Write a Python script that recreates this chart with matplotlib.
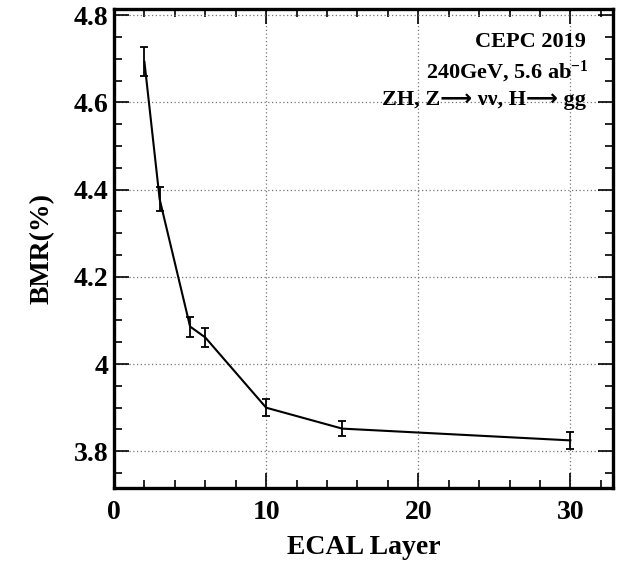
import matplotlib
matplotlib.use('Agg')
import matplotlib.pyplot as plt
from matplotlib.ticker import MultipleLocator

# Data
layers = [2, 3, 5, 6, 10, 15, 30]
bmr = [4.693, 4.378, 4.086, 4.061, 3.900, 3.852, 3.825]
bmr_err = [0.033, 0.028, 0.023, 0.022, 0.020, 0.018, 0.020]

plt.rcParams['font.family'] = ['Liberation Serif', 'DejaVu Sans']
plt.rcParams['font.weight'] = 'bold'
plt.rcParams['mathtext.fontset'] = 'custom'
plt.rcParams['mathtext.rm'] = 'Liberation Serif:bold'
plt.rcParams['mathtext.it'] = 'Liberation Serif:bold:italic'

fig = plt.figure(figsize=(6.21, 5.66), dpi=100)
ax = fig.add_axes([114 / 621, 1 - 487.5 / 566, 499 / 621, 478.5 / 566])

ax.errorbar(layers, bmr, yerr=bmr_err, color='black', lw=1.5,
            elinewidth=1.3, capsize=3, capthick=1.3, zorder=3)

ax.set_xlim(0, 32.8)
ax.set_ylim(3.717, 4.814)

ax.xaxis.set_major_locator(MultipleLocator(10))
ax.xaxis.set_minor_locator(MultipleLocator(2))
ax.yaxis.set_minor_locator(MultipleLocator(0.05))
ax.set_yticks([3.8, 4.0, 4.2, 4.4, 4.6, 4.8])
ax.set_yticklabels(['3.8', '4', '4.2', '4.4', '4.6', '4.8'])

ax.tick_params(which='both', direction='in', top=True, right=True,
               width=1.2, labelsize=20)
ax.tick_params(axis='x', pad=9)
ax.tick_params(axis='y', pad=4)
ax.tick_params(which='major', length=11)
ax.tick_params(which='minor', length=6)
for s in ax.spines.values():
    s.set_linewidth(2.4)

ax.grid(True, which='major', linestyle=(0, (1, 2)), color='#777777', lw=0.9)

ax.set_xlabel('ECAL Layer', fontsize=20, fontweight='bold', labelpad=7)
ax.set_ylabel('BMR(%)', fontsize=20, fontweight='bold', labelpad=14)

ax.text(0.945, 0.952, 'CEPC 2019', transform=ax.transAxes, ha='right',
        va='top', fontsize=16, fontweight='bold')
ax.text(0.951, 0.895, r'240GeV, 5.6 ab$^{\mathregular{-1}}$', transform=ax.transAxes,
        ha='right', va='top', fontsize=16, fontweight='bold')
ax.text(0.945, 0.830, 'ZH, Z\u27f6 \u03bd\u03bd, H\u27f6 gg', transform=ax.transAxes,
        ha='right', va='top', fontsize=16, fontweight='bold')

plt.savefig('out.png', dpi=100)
